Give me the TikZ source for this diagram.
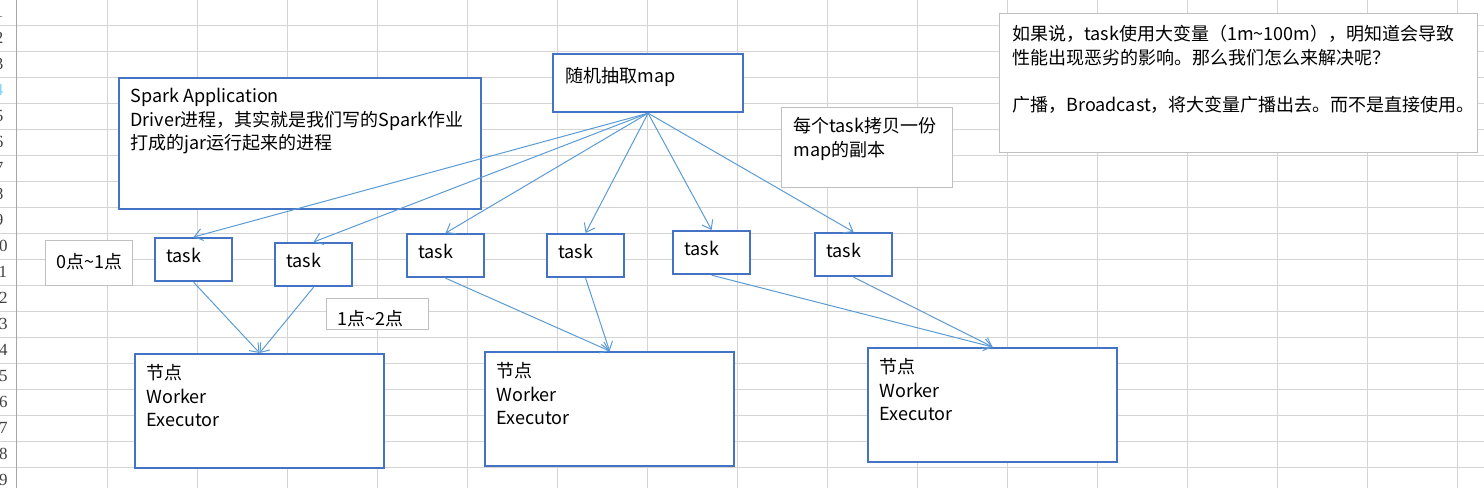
\documentclass[tikz,border=0pt]{standalone}
\usepackage{fontspec}
\setmainfont{Noto Sans CJK SC}
\newfontfamily\rowfont{Liberation Serif}
\usetikzlibrary{arrows.meta}
\definecolor{boxblue}{HTML}{4472C4}
\definecolor{arrowblue}{HTML}{5B9BD5}
\definecolor{gridgray}{HTML}{D4D4D4}
\definecolor{notegray}{HTML}{BFBFBF}
\definecolor{headgray}{HTML}{A6A6A6}

\begin{document}
\begin{tikzpicture}[x=0.5pt,y=-0.5pt,
   bluebox/.style={draw=boxblue,line width=1.1pt,fill=white,anchor=north west,inner sep=0pt},
   graynote/.style={draw=notegray,line width=0.5pt,fill=white,anchor=north west,inner sep=0pt},
   txt/.style={anchor=north west,inner sep=0pt,align=left,font=\fontsize{9}{11.8}\selectfont},
   copyarrow/.style={draw=arrowblue,line width=0.5pt,-{Straight Barb[length=4pt,width=6pt]}}]
\useasboundingbox (0,0) rectangle (1484,488);

% sheet grid
\foreach \y in {25,51,...,467}
   \draw[gridgray,line width=0.5pt] (0,\y) -- (1484,\y);
\foreach \x in {107,197,...,1457}
   \draw[gridgray,line width=0.5pt] (\x,0) -- (\x,488);
\draw[headgray,line width=0.5pt] (16,0) -- (16,488);
\foreach \c/\r [count=\n] in {darkgray/1,darkgray/2,darkgray/3,cyan!50/4,darkgray/5,darkgray/6,darkgray/7,darkgray/8,darkgray/9,darkgray/10,
        darkgray/11,darkgray/12,darkgray/13,darkgray/14,darkgray/15,darkgray/16,darkgray/17,darkgray/18,darkgray/19}
   \node[text=\c,font=\rowfont\fontsize{8.5}{9}\selectfont,inner sep=0pt] (row\n) at (-1,{12+26*(\n-1)}) {\r};

% driver and map
\node[bluebox,minimum width=181pt,minimum height=65.5pt] (app) at (118,77) {};
\node[txt] (apptext) at ([shift={(12,11)}]app.north west)
   {Spark Application\\Driver进程，其实就是我们写的Spark作业\\打成的jar运行起来的进程};
\node[bluebox,minimum width=95pt,minimum height=29pt] (map) at (552,53) {};
\node[txt] (maptext) at ([shift={(13,14)}]map.north west) {随机抽取map};

% notes
\node[graynote,minimum width=85.5pt,minimum height=40pt] (copy) at (781,107) {};
\node[txt] (copytext) at ([shift={(12,10)}]copy.north west) {每个task拷贝一份\\map的副本};
\node[graynote,minimum width=239pt,minimum height=69.5pt] (bcast) at (999,13) {};
\node[txt] (bcasttext) at ([shift={(13,12)}]bcast.north west)
   {如果说，task使用大变量（1m\textasciitilde100m），明知道会导致\\性能出现恶劣的影响。那么我们怎么来解决呢？\\[11.8pt]广播，Broadcast，将大变量广播出去。而不是直接使用。};
\node[graynote,minimum width=43.5pt,minimum height=22.5pt] (zero) at (45,240) {};
\node[txt] (zerotext) at ([shift={(11,13)}]zero.north west) {0点\textasciitilde1点};
\node[graynote,minimum width=51pt,minimum height=15.5pt] (one) at (326,298) {};
\node[txt] (onetext) at ([shift={(11,12)}]one.north west) {1点\textasciitilde2点};

% tasks
\foreach \x/\y [count=\n] in {154/237,274/242,406/233,546/233,672/230,814/232}
   {\node[bluebox,minimum width=38.5pt,minimum height=21.5pt] (task\n) at (\x,\y) {};
    \node[txt] (tasktext\n) at ([shift={(12,11)}]task\n.north west) {task};}

% worker nodes
\foreach \x/\y [count=\n] in {134/353,484/351,867/347}
   {\node[bluebox,minimum width=124.5pt,minimum height=57pt] (worker\n) at (\x,\y) {};
    \node[txt] (workertext\n) at ([shift={(12,11)}]worker\n.north west) {节点\\Worker\\Executor};}

\foreach \n in {1,...,6}
   \draw[copyarrow] (map.south) -- (task\n.north);
\draw[copyarrow] (task1.south) -- (worker1.north);
\draw[copyarrow] (task2.south) -- (worker1.north);
\draw[copyarrow] (task3.south) -- (worker2.north);
\draw[copyarrow] (task4.south) -- (worker2.north);
\draw[copyarrow] (task5.south) -- (worker3.north);
\draw[copyarrow] (task6.south) -- (worker3.north);
\end{tikzpicture}
\end{document}
